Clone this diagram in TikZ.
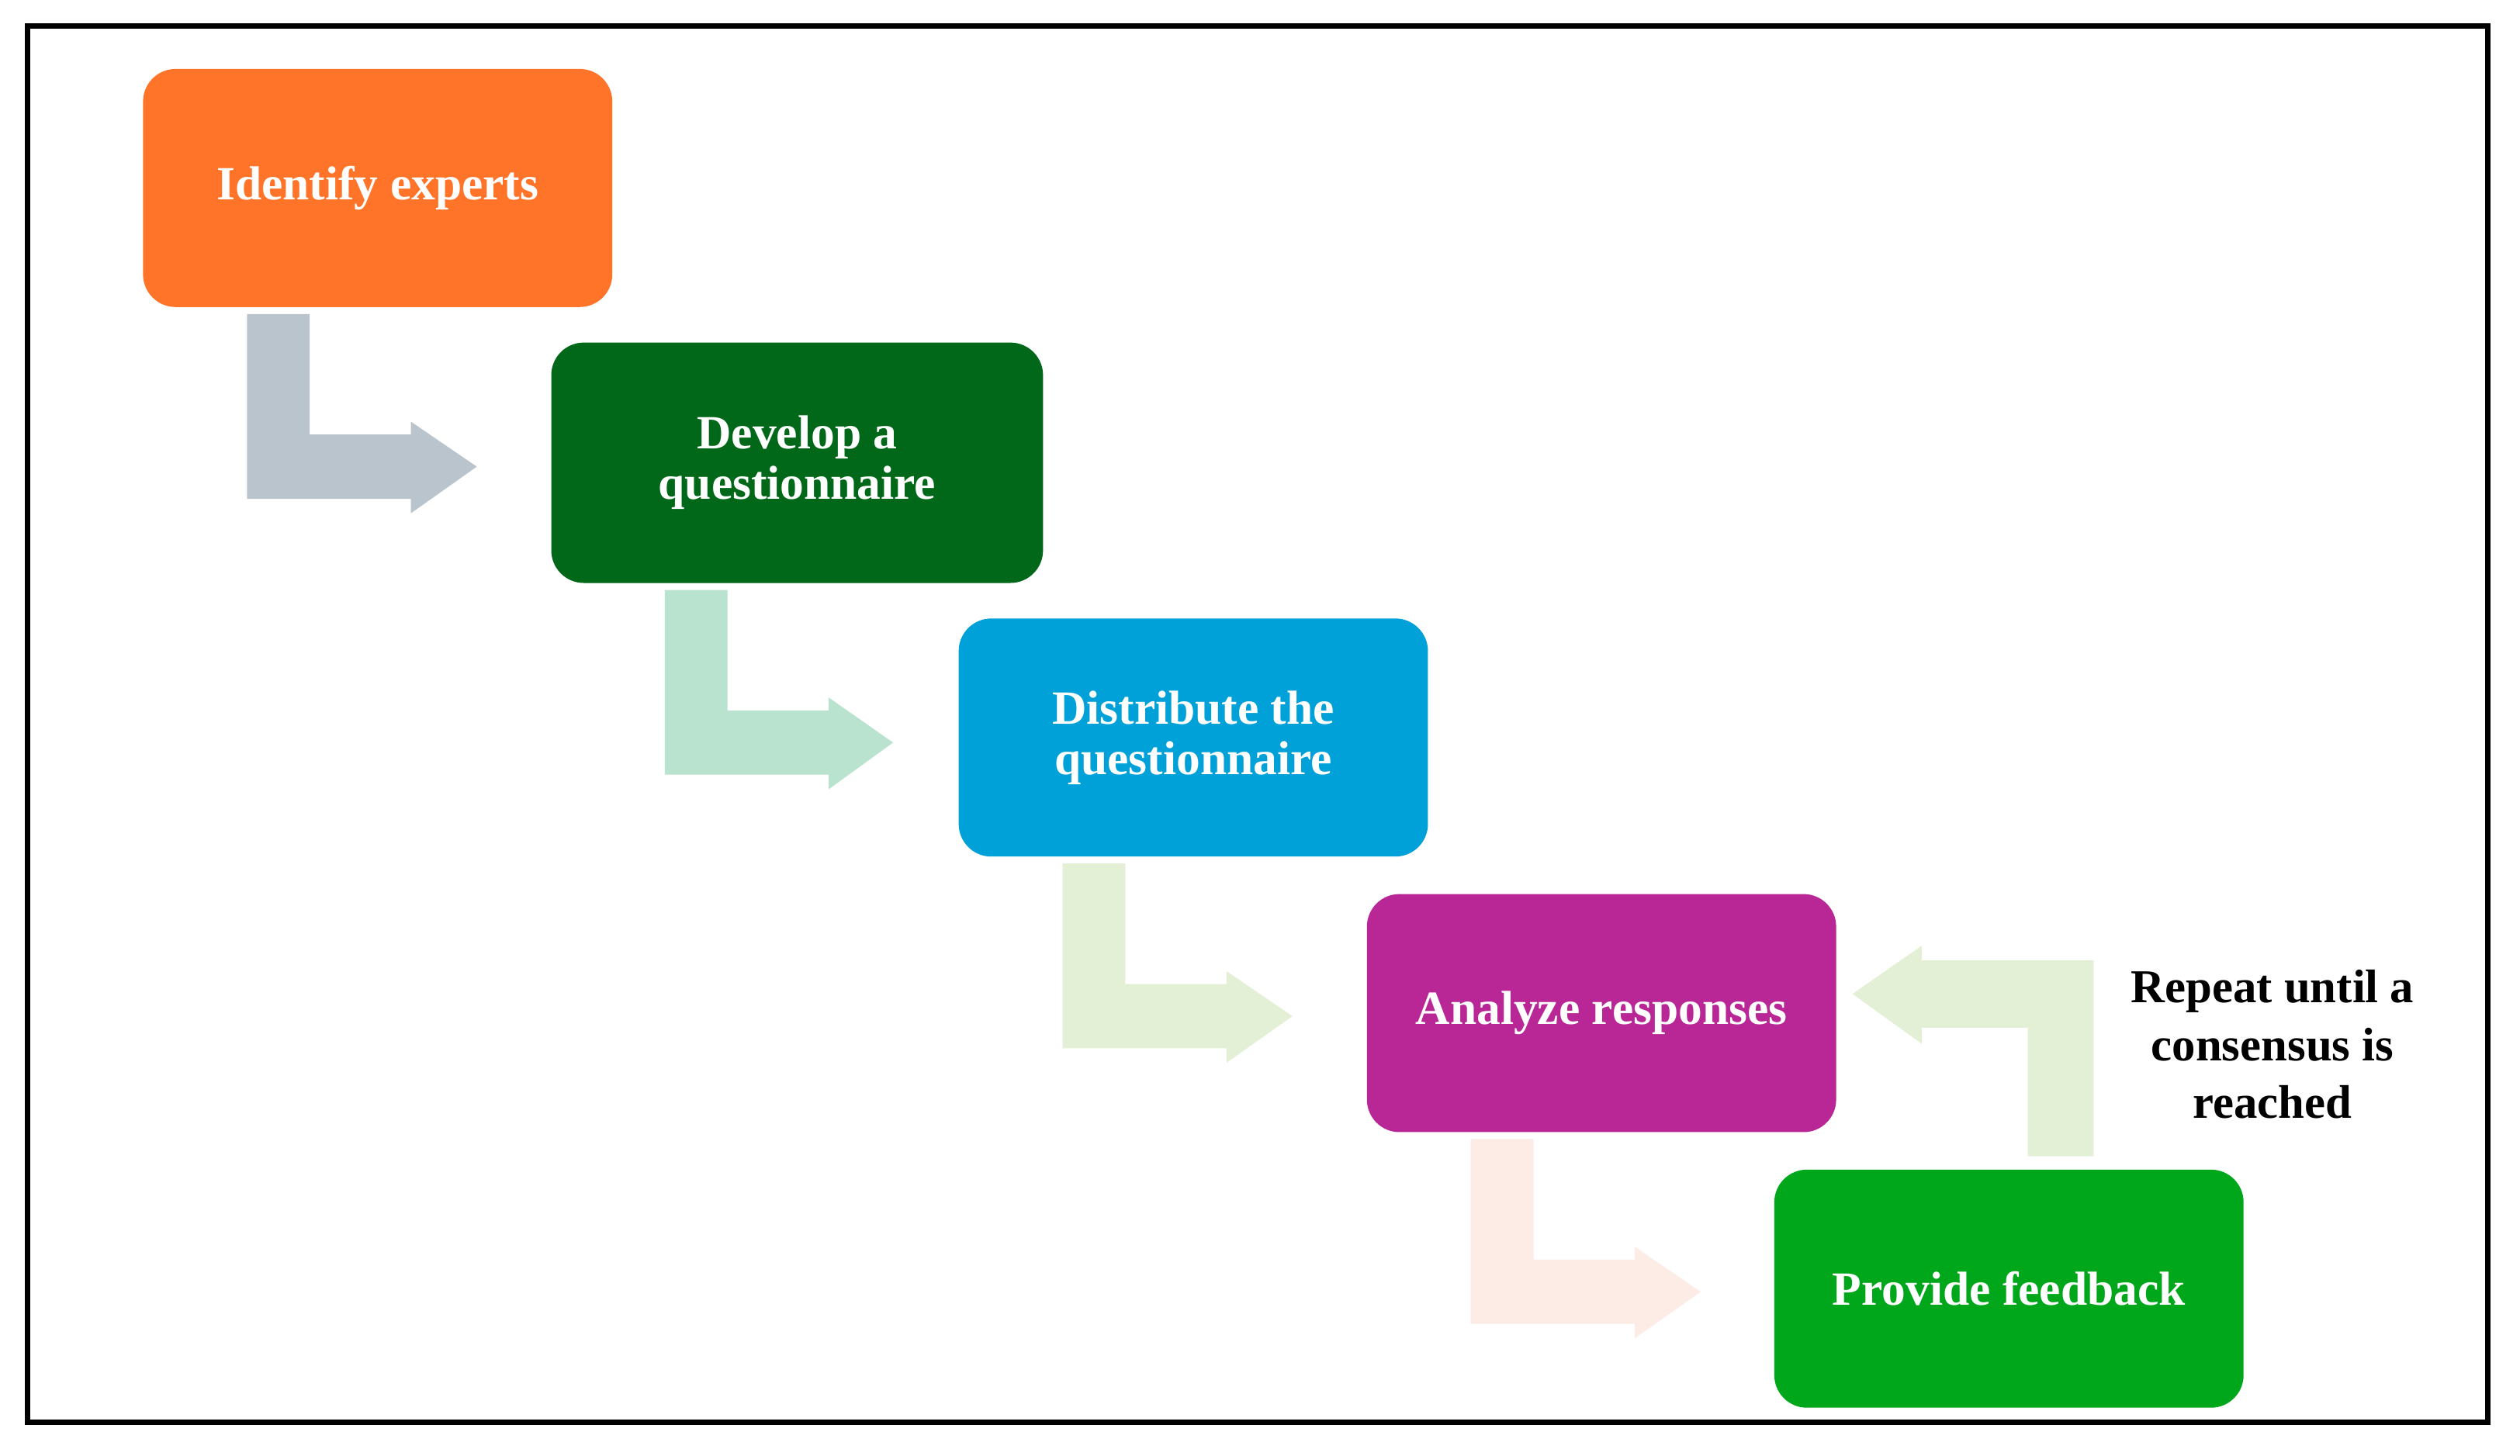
\documentclass[tikz,border=0pt]{standalone}
\usepackage{fontspec}
\setmainfont{Liberation Serif}
\definecolor{orng}{RGB}{255,116,40}
\definecolor{dgrn}{RGB}{0,104,24}
\definecolor{blu}{RGB}{0,161,216}
\definecolor{mgnt}{RGB}{185,38,149}
\definecolor{grn}{RGB}{0,167,26}
\definecolor{agry}{RGB}{186,196,205}
\definecolor{amnt}{RGB}{185,226,207}
\definecolor{alim}{RGB}{228,240,214}
\definecolor{apnk}{RGB}{253,235,230}
\begin{document}
\begin{tikzpicture}[x=0.020714cm, y=-0.020714cm, align=center]
\tikzstyle{b} = [rectangle, rounded corners=0.42cm, minimum width=6.05cm, minimum height=3.07cm, inner sep=0pt, text=white, font=\fontsize{17.5}{18.5}\selectfont\bfseries]
\tikzstyle{t} = [font=\fontsize{17.3}{21.2}\selectfont\bfseries]

\useasboundingbox[fill=white] (0,0) rectangle (1568,906);
\draw[line width=2pt] (17,16) rectangle (1548,885);

\node[b, fill=orng] (I) at (235,117) {Identify experts};
\node[b, fill=dgrn, minimum width=6.34cm, minimum height=3.1cm] (D) at (496,288) {Develop a\\questionnaire};
\node[b, fill=blu] (Q) at (742.5,459) {Distribute the\\questionnaire};
\node[b, fill=mgnt] (A) at (996.5,630.5) {Analyze responses};
\node[b, fill=grn] (F) at (1250,802) {Provide feedback};
\node[t] (R) at (1414,650) {Repeat until a\\consensus is\\reached};

% bent arrows between the steps
\fill[agry, shift={(I.south west)}] (65,4) -- (104,4) -- (104,79) -- (167,79) -- (167,71) -- (208,99) -- (167,128) -- (167,119) -- (65,119) -- cycle;
\fill[amnt, shift={(D.south west)}] (71,4) -- (110,4) -- (110,79) -- (173,79) -- (173,71) -- (213,99) -- (173,128) -- (173,119) -- (71,119) -- cycle;
\fill[alim, shift={(Q.south west)}] (65,4) -- (104,4) -- (104,79) -- (167,79) -- (167,71) -- (208,99) -- (167,128) -- (167,119) -- (65,119) -- cycle;
\fill[apnk, shift={(A.south west)}] (65,4) -- (104,4) -- (104,79) -- (167,79) -- (167,71) -- (208,99) -- (167,128) -- (167,119) -- (65,119) -- cycle;

% back to the analysis
\fill[alim, shift={(F.north west)}] (199,-8) -- (199,-130) -- (92,-130) -- (92,-139) -- (49,-109) -- (92,-78) -- (92,-88) -- (158,-88) -- (158,-8) -- cycle;
\end{tikzpicture}
\end{document}
